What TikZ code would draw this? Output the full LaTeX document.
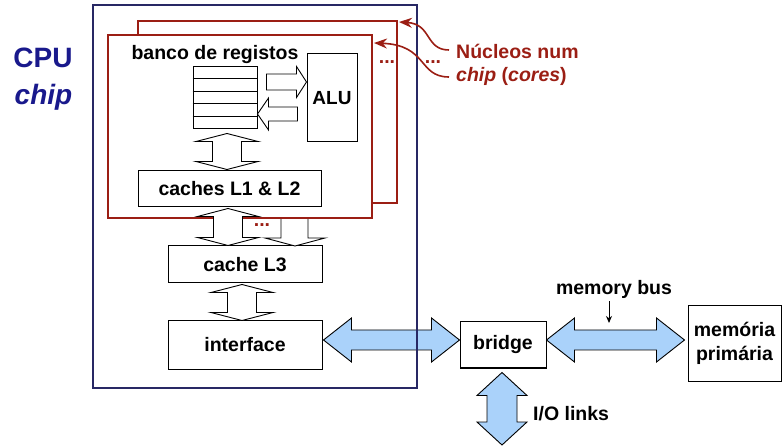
\documentclass[tikz,border=0pt]{standalone}
\usepackage{fontspec}
\setmainfont{Liberation Sans}
\usetikzlibrary{calc,arrows.meta}

\definecolor{chipnavy}{RGB}{40,40,100}
\definecolor{corered}{RGB}{155,30,20}
\definecolor{cpublue}{RGB}{25,25,140}
\definecolor{busblue}{RGB}{170,210,250}

% double-headed horizontal block arrow: style, left tip, right tip, body half-width, head half-width, head length
\newcommand{\HArrow}[6]{%
  \path[#1] let \p1=(#2), \p2=(#3) in
    (\x1,\y1) -- ({\x1+#6},{\y1+#5}) -- ({\x1+#6},{\y1+#4}) -- ({\x2-#6},{\y1+#4})
    -- ({\x2-#6},{\y1+#5}) -- (\x2,\y1) -- ({\x2-#6},{\y1-#5}) -- ({\x2-#6},{\y1-#4})
    -- ({\x1+#6},{\y1-#4}) -- ({\x1+#6},{\y1-#5}) -- cycle;}
% double-headed vertical block arrow: style, top tip, bottom tip, body half, head half, head length
\newcommand{\VArrow}[6]{%
  \path[#1] let \p1=(#2), \p2=(#3) in
    (\x1,\y1) -- ({\x1+#5},{\y1-#6}) -- ({\x1+#4},{\y1-#6}) -- ({\x1+#4},{\y2+#6})
    -- ({\x1+#5},{\y2+#6}) -- (\x1,\y2) -- ({\x1-#5},{\y2+#6}) -- ({\x1-#4},{\y2+#6})
    -- ({\x1-#4},{\y1-#6}) -- ({\x1-#5},{\y1-#6}) -- cycle;}
% single-headed horizontal block arrow: style, tail, tip, body half, head half, signed head length
\newcommand{\SArrow}[6]{%
  \path[#1] let \p1=(#2), \p2=(#3) in
    ({\x1},{\y1+#4}) -- ({\x2-(#6)},{\y1+#4}) -- ({\x2-(#6)},{\y1+#5}) -- (\x2,\y1)
    -- ({\x2-(#6)},{\y1-#5}) -- ({\x2-(#6)},{\y1-#4}) -- ({\x1},{\y1-#4}) -- cycle;}

\begin{document}
\begin{tikzpicture}[x=1pt,y=-1pt,
  lbl/.style={font=\fontsize{19.5}{24}\selectfont\bfseries, inner sep=0pt},
  box/.style={lbl, draw=black, line width=1pt, fill=white},
  hollow/.style={draw=black, line width=0.9pt, fill=white, line join=miter},
  busarrow/.style={draw=black, line width=0.9pt, fill=busblue, line join=miter},
  core/.style={draw=corered, line width=2pt, fill=white},
  chipframe/.style={draw=chipnavy, line width=2pt},
  dots/.style={lbl, text=corered},
  pointer/.style={draw=corered, line width=1.6pt, -{Stealth[length=13pt,width=10pt]}},
  cpulbl/.style={font=\fontsize{28}{30}\selectfont\bfseries, text=cpublue, inner sep=0pt},
]
\useasboundingbox (0,0) rectangle (782,446);

% ---- chip-level boxes and off-chip parts ----
\node[box, minimum width=154pt, minimum height=48pt] (iface) at (245,345) {interface};
\node[box, minimum width=86pt, minimum height=46pt] (bridge) at (503,345) {bridge};
\node[box, minimum width=93pt, minimum height=75pt, align=center] (mem) at (734.5,343.5) {memória\\primária};
\node[box, minimum width=154pt, minimum height=37pt] (l3) at (245,264.5) {cache L3};

% ---- buses ----
\coordinate (ifOut) at ($(iface.east)+(1,-5)$);
\coordinate (brIn) at ($(bridge.west)+(0,-5)$);
\coordinate (brOut) at ($(bridge.east)+(0,-5)$);
\coordinate (memIn) at ($(mem.west)+(-3,-3.5)$);
\coordinate (brDown) at ($(bridge.south)+(-1,4)$);
\coordinate (ioEnd) at (502,445);
\HArrow{busarrow}{ifOut}{brIn}{10pt}{22pt}{28pt}
\HArrow{busarrow}{brOut}{memIn}{10pt}{22pt}{28pt}
\VArrow{busarrow}{brDown}{ioEnd}{15pt}{25pt}{23pt}

\node[lbl] (buslbl) at (614,289) {memory bus};
\coordinate (busTop) at (609,323);
\draw[line width=1pt, -{Stealth[length=7pt,width=6pt]}] (buslbl.south -| busTop) ++(0,3) -- (busTop);
\node[lbl, anchor=west] (iolbl) at (533,413.5) {I/O links};

% ---- chip outline ----
\draw[chipframe] (93,5) rectangle (417,388);
\node[cpulbl] (cpu) at (43,57.5) {CPU};
\node[cpulbl, font=\fontsize{28}{30}\selectfont\bfseries\itshape] (chipword) at (43.5,97.5) {chip};

% ---- second core (behind) ----
\draw[core] (138,21) rectangle (397,203);
\path[hollow] (281,203) -- (281,238) -- (265,238) -- (295,246) -- (325,238) -- (308,238) -- (308,203);

% ---- front core ----
\node[core, minimum width=264pt, minimum height=183pt, inner sep=0pt] (core) at (240,126.5) {};
\node[lbl] (banco) at (215,55) {banco de registos};
\node[draw=black, line width=1pt, fill=white, minimum width=64pt, minimum height=62pt, inner sep=0pt] (regs) at (225,98) {};
\foreach \k in {1,2,3,4}
  \draw[line width=1pt] ($(regs.north west)+(0,12.4*\k)$) -- ($(regs.north east)+(0,12.4*\k)$);
\node[box, minimum width=50pt, minimum height=88pt, font=\fontsize{19}{22}\selectfont\bfseries] (alu) at (332,98) {ALU};
\node[box, minimum width=183pt, minimum height=36pt] (l12) at (229.5,189) {caches L1 \& L2};

% register file <-> ALU
\coordinate (toAluTail) at ($(regs.east)+(9,-16)$);
\coordinate (toAluTip) at ($(alu.west)+(0,-16)$);
\coordinate (fromAluTail) at ($(alu.west)+(-9,16)$);
\coordinate (fromAluTip) at ($(regs.east)+(0,16)$);
\SArrow{hollow}{toAluTail}{toAluTip}{8pt}{15.5pt}{10pt}
\SArrow{hollow}{fromAluTail}{fromAluTip}{7pt}{16pt}{-11pt}

% register file <-> L1/L2
\coordinate (regDown) at ($(regs.south)+(2,4)$);
\coordinate (l12Up) at ($(l12.north -| regDown)+(0,-1)$);
\VArrow{hollow}{regDown}{l12Up}{14.5pt}{31pt}{8pt}

% L1/L2 <-> L3
\coordinate (l12Down) at ($(l12.south)+(-1.5,1)$);
\coordinate (l3Up) at (l3.north -| l12Down);
\VArrow{hollow}{l12Down}{l3Up}{14.5pt}{30.5pt}{8pt}

% L3 <-> interface
\coordinate (l3Down) at ($(l3.south)+(-3,1)$);
\coordinate (ifUp) at (iface.north -| l3Down);
\VArrow{hollow}{l3Down}{ifUp}{14.5pt}{31pt}{8pt}

% ---- ellipses for further cores ----
\node[dots] (dotsA) at (262,225) {...};
\node[dots] (dotsB) at (387,62) {...};
\node[dots] (dotsC) at (433,62) {...};

% ---- core annotation ----
\node[lbl, text=corered, anchor=west] (nuc1) at (456,51) {Núcleos num};
\node[lbl, text=corered, anchor=west] (nuc2) at (456,76) {\textit{chip} (\textit{cores})};
\coordinate (backCorner) at (399,22);
\coordinate (frontCorner) at (374,43);
\draw[pointer] ($(nuc1.west)+(-7,-1)$) .. controls (425,50) and (432,24) .. (backCorner);
\draw[pointer] ($(nuc2.west)+(-7,1)$) .. controls (418,77) and (428,45) .. (frontCorner);
\end{tikzpicture}
\end{document}
